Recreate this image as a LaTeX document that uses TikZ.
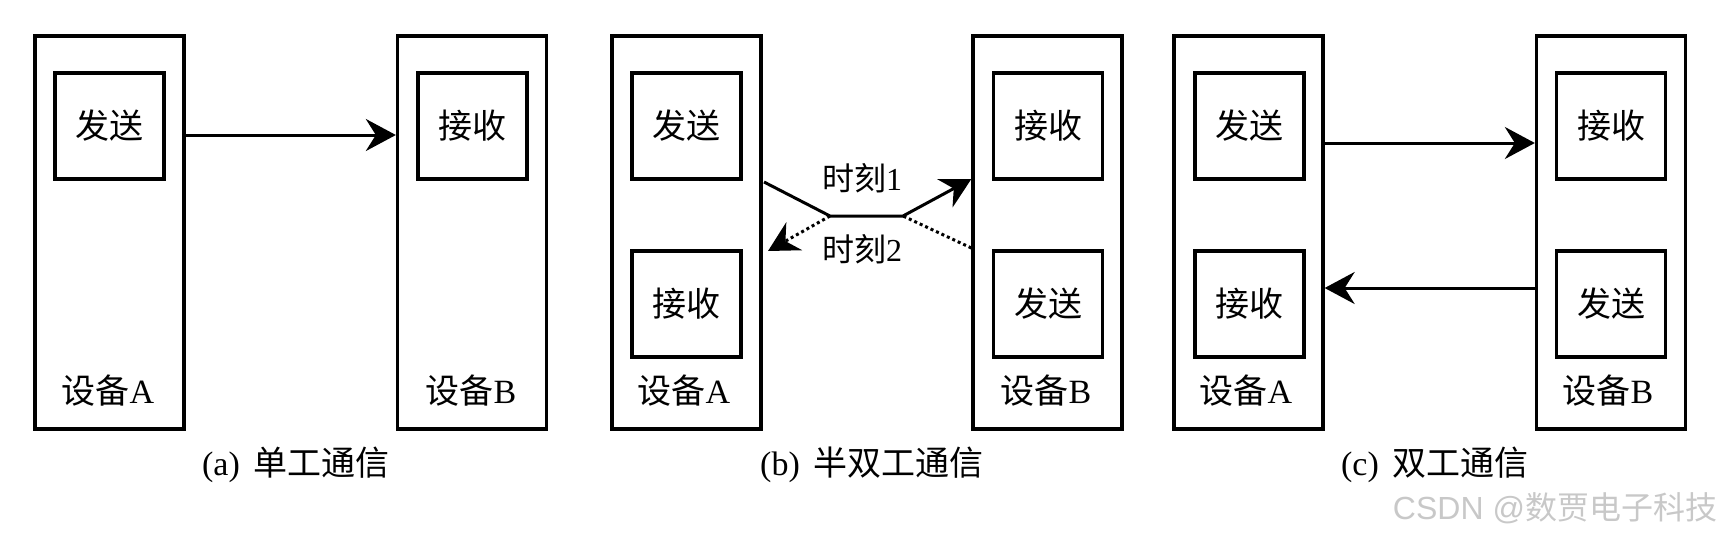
\documentclass[tikz,border=0pt]{standalone}
\usepackage{fontspec}
\setmainfont{Liberation Serif}
\newfontfamily\cjk{Noto Sans CJK SC}
\newfontfamily\wmfont{Liberation Sans}
\usetikzlibrary{arrows.meta}
\definecolor{wmgray}{RGB}{200,200,200}
\begin{document}
\begin{tikzpicture}[x=1pt,y=-1pt,
  outerbox/.style={draw, line width=3.3pt, minimum width=149pt, minimum height=393pt, inner sep=0pt},
  innerbox/.style={draw, line width=3.3pt, minimum width=109pt, minimum height=106pt, inner sep=0pt, font=\cjk\fontsize{34}{40}\selectfont},
  lbl/.style={inner sep=0pt, font=\fontsize{34}{40}\selectfont},
  smalllbl/.style={inner sep=0pt, font=\fontsize{32}{38}\selectfont},
  tipstyle/.style={-{Stealth[length=30pt,width=32pt,inset=10pt]}},
  link/.style={line width=3pt, tipstyle},
  dotlink/.style={line width=3pt, dash pattern=on 3pt off 3pt}
]
\useasboundingbox (0,0) rectangle (1724,539);

% ---------- (a) ----------
\node[outerbox] (aA) at (109.5,232.5) {};
\node[outerbox] (aB) at (472,232.5) {};
\node[innerbox] (aS) at (109.5,126) {发送};
\node[innerbox] (aR) at (472.5,126) {接收};
\node[lbl] (aAl) at (108,391) {{\cjk 设备}A};
\node[lbl] (aBl) at (471,391) {{\cjk 设备}B};
\coordinate (ya) at (0,135);
\draw[link] (aA.east |- ya) -- (aB.west |- ya);
\node[lbl] (capa) at (296,465) {(a)\hspace{14pt}{\cjk 单工通信}};

% ---------- (b) ----------
\node[outerbox] (bA) at (686.5,232.5) {};
\node[outerbox] (bB) at (1047.5,232.5) {};
\node[innerbox] (bAs) at (686.5,126) {发送};
\node[innerbox] (bAr) at (686.5,304) {接收};
\node[innerbox] (bBr) at (1048,126) {接收};
\node[innerbox] (bBs) at (1048,304) {发送};
\node[lbl] (bAl) at (684,391) {{\cjk 设备}A};
\node[lbl] (bBl) at (1046,391) {{\cjk 设备}B};
\coordinate (bs) at (764,182);
\coordinate (k1) at (830,216);
\coordinate (k2) at (903,216);
\coordinate (yb2) at (0,179);
\coordinate (yd1) at (0,248);
\coordinate (bd) at (768,251);
\draw[link] (bs) -- (k1) -- (k2) -- (bB.west |- yb2);
\draw[dotlink] (bB.west |- yd1) -- (k2);
\draw[dotlink, tipstyle] (k1) -- (bd);
\node[smalllbl] (t1) at (862,178) {{\cjk 时刻}1};
\node[smalllbl] (t2) at (862,249) {{\cjk 时刻}2};
\node[lbl] (capb) at (872,465) {(b)\hspace{14pt}{\cjk 半双工通信}};

% ---------- (c) ----------
\node[outerbox] (cA) at (1248.5,232.5) {};
\node[outerbox] (cB) at (1611,232.5) {};
\node[innerbox] (cAs) at (1249.5,126) {发送};
\node[innerbox] (cAr) at (1249.5,304) {接收};
\node[innerbox] (cBr) at (1611,126) {接收};
\node[innerbox] (cBs) at (1611,304) {发送};
\node[lbl] (cAl) at (1246,391) {{\cjk 设备}A};
\node[lbl] (cBl) at (1608,391) {{\cjk 设备}B};
\coordinate (yc1) at (0,143);
\coordinate (yc2) at (0,288);
\draw[link] (cA.east |- yc1) -- (cB.west |- yc1);
\draw[link] (cB.west |- yc2) -- (cA.east |- yc2);
\node[lbl] (capc) at (1435,465) {(c)\hspace{14pt}{\cjk 双工通信}};

% watermark
\node[inner sep=0pt, text=wmgray, font=\fontsize{32}{38}\selectfont] (wm) at (1555,508) {\wmfont CSDN @{\cjk 数贾电子科技}};
\end{tikzpicture}
\end{document}
